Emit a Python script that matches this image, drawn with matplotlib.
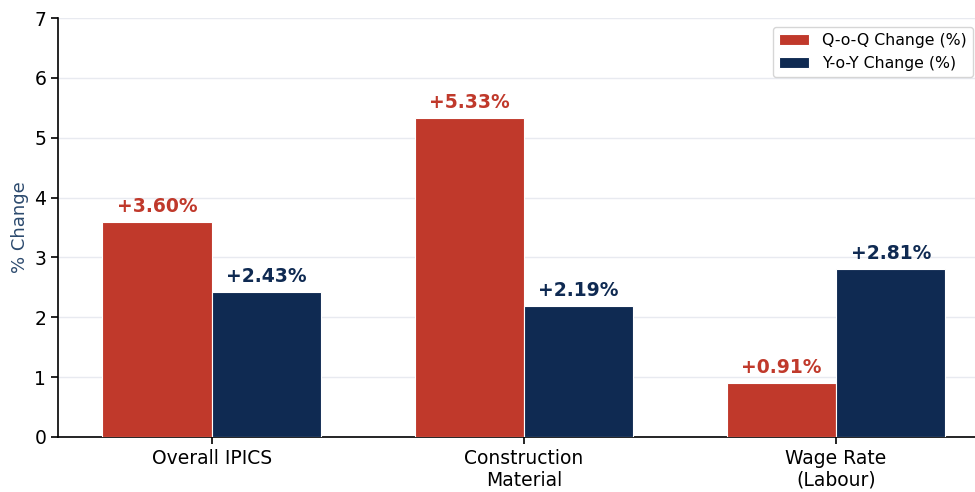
import matplotlib
matplotlib.use("Agg")
import matplotlib.pyplot as plt
import numpy as np

categories = ["Overall IPICS", "Construction\nMaterial", "Wage Rate\n(Labour)"]
qoq_change = [3.60, 5.33, 0.91]
yoy_change = [2.43, 2.19, 2.81]
series_names = ["Q-o-Q Change (%)", "Y-o-Y Change (%)"]

red = "#c0392b"
navy = "#0f2a52"

fig = plt.figure(figsize=(9.75, 4.92), dpi=100)
ax = fig.add_axes([0.0595, 0.1118, 0.9405, 0.8516])

x = np.arange(len(categories))
w = 0.35
b1 = ax.bar(x - w / 2, qoq_change, w, color=red, edgecolor="white", linewidth=0.8,
            label=series_names[0], zorder=3)
b2 = ax.bar(x + w / 2, yoy_change, w, color=navy, edgecolor="white", linewidth=0.8,
            label=series_names[1], zorder=3)

for bars, vals, col in ((b1, qoq_change, red), (b2, yoy_change, navy)):
    for bar, v in zip(bars, vals):
        ax.annotate(f"+{v:.2f}%", (bar.get_x() + bar.get_width() / 2, v),
                    xytext=(0, 4), textcoords="offset points",
                    ha="center", va="bottom", fontsize=13.5, fontweight="bold", color=col)

ax.set_xlim(-0.492, 2.445)
ax.set_ylim(0, 7)
ax.set_yticks(range(0, 8))
ax.set_xticks(x)
ax.set_xticklabels(categories, fontsize=13.5)
ax.tick_params(axis="y", labelsize=13.5)
ax.tick_params(axis="both", length=5, width=1.2)
ax.set_ylabel("% Change", fontsize=13, color="#2c4a6e", labelpad=4)
ax.yaxis.grid(True, color="#e8eaf0", linewidth=1, zorder=0)
ax.set_axisbelow(True)
for s in ("top", "right"):
    ax.spines[s].set_visible(False)
ax.spines["left"].set_linewidth(1.2)
ax.spines["bottom"].set_linewidth(1.2)

ax.legend(loc="upper right", fontsize=11.3, frameon=True, bbox_to_anchor=(1.006, 0.998),
          handlelength=1.9)

fig.savefig("out.png", dpi=100)
